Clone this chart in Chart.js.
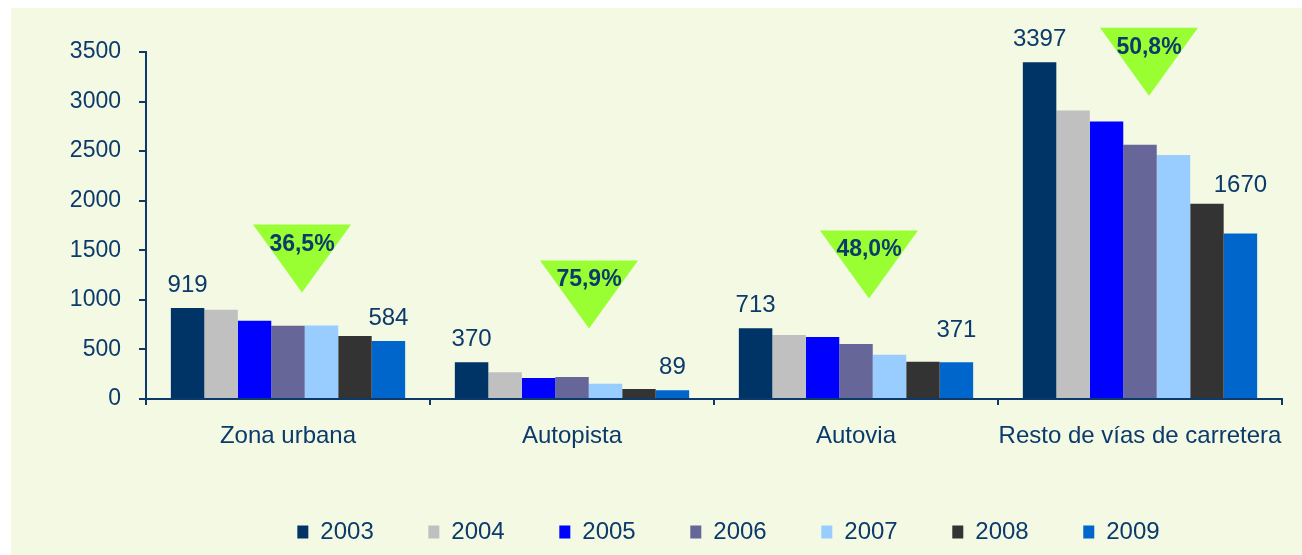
<!DOCTYPE html>
<html>
<head>
<meta charset="utf-8">
<script src="https://cdn.jsdelivr.net/npm/chart.js@4/dist/chart.umd.min.js"></script>
<style>
    body { margin: 0; background: #ffffff; }
    #wrap { position: absolute; left: 11px; top: 8px; width: 1291px; height: 547px; background: #F3F9E3; }
</style>
</head>
<body>
<div id="wrap"><canvas id="chart" width="1291" height="547"></canvas></div>
<script>
const categories = ['Zona urbana', 'Autopista', 'Autovia', 'Resto de vías de carretera'];
const years = ['2003', '2004', '2005', '2006', '2007', '2008', '2009'];

const v2003 = [919, 370, 713, 3397];
const v2004 = [900, 270, 645, 2910];
const v2005 = [790, 212, 625, 2800];
const v2006 = [738, 222, 556, 2565];
const v2007 = [742, 155, 446, 2460];
const v2008 = [635, 102, 376, 1970];
const v2009 = [584, 89, 371, 1670];

const yTicks = [0, 500, 1000, 1500, 2000, 2500, 3000, 3500];

// reduction 2003-2009 shown in the green triangles, anchored at a value on the y scale
const dropLabels = ['36,5%', '75,9%', '48,0%', '50,8%'];
const dropTops = [1760, 1398, 1700, 3745];

const colors = ['#003366', '#C0C0C0', '#0000FF', '#666699', '#99CCFF', '#333333', '#0066CC'];
const textColor = '#0B3A6B';
const axisColor = '#0B3A6B';
const fontFamily = "Arial, 'Liberation Sans', sans-serif";

const series = [v2003, v2004, v2005, v2006, v2007, v2008, v2009];

// value labels only on the first and the last year
// (the last-year labels are pushed up a bit where they would touch the 2008 bar)
const endLabels = {
    id: 'endLabels',
    afterDatasetsDraw(chart) {
        const ctx = chart.ctx;
        const lastLift = [0, 0, 9, 25];
        const last = series.length - 1;
        ctx.save();
        ctx.font = '24px ' + fontFamily;
        ctx.fillStyle = textColor;
        ctx.textAlign = 'center';
        ctx.textBaseline = 'alphabetic';
        [0, last].forEach(di => {
            chart.getDatasetMeta(di).data.forEach((bar, i) => {
                const lift = di === last ? lastLift[i] : 0;
                ctx.fillText(String(series[di][i]), bar.x, bar.y - 16 - lift);
            });
        });
        ctx.restore();
    }
};

const dropMarks = {
    id: 'dropMarks',
    afterDatasetsDraw(chart) {
        const ctx = chart.ctx;
        const x = chart.scales.x, y = chart.scales.y;
        const shift = [14, 17, 13, 9];
        ctx.save();
        dropLabels.forEach((txt, i) => {
            const cx = x.getPixelForValue(i) + shift[i];
            const top = y.getPixelForValue(dropTops[i]);
            ctx.beginPath();
            ctx.moveTo(cx - 49, top);
            ctx.lineTo(cx + 49, top);
            ctx.lineTo(cx, top + 68);
            ctx.closePath();
            ctx.fillStyle = '#99FF33';
            ctx.fill();
            ctx.font = 'bold 23px ' + fontFamily;
            ctx.fillStyle = textColor;
            ctx.textAlign = 'center';
            ctx.textBaseline = 'alphabetic';
            ctx.fillText(txt, cx, top + 26);
        });
        ctx.restore();
    }
};

// move the legend row to where it sits in the original
const legendShift = {
    id: 'legendShift',
    afterLayout(chart) {
        chart.legend.left += 82;
        chart.legend.right += 82;
    }
};

new Chart(document.getElementById('chart'), {
    type: 'bar',
    data: {
        labels: categories,
        datasets: years.map((yr, i) => ({
            label: yr,
            data: series[i],
            backgroundColor: colors[i],
            borderWidth: 0,
            categoryPercentage: 0.825,
            barPercentage: 1
        }))
    },
    options: {
        responsive: false,
        animation: false,
        layout: { padding: { top: 44, right: 20, bottom: 1, left: 0 } },
        plugins: {
            legend: {
                position: 'bottom',
                labels: {
                    boxWidth: 11,
                    boxHeight: 13,
                    padding: 54.6,
                    color: textColor,
                    font: { family: fontFamily, size: 24 }
                }
            },
            tooltip: { enabled: false }
        },
        scales: {
            x: {
                afterFit(scale) { scale.height = 66.4; },
                border: { color: axisColor, width: 2 },
                grid: { offset: true, drawOnChartArea: false, drawTicks: true, tickLength: 6, color: axisColor, lineWidth: 2 },
                ticks: {
                    color: textColor,
                    padding: 17,
                    maxRotation: 0,
                    minRotation: 0,
                    autoSkip: false,
                    font: { family: fontFamily, size: 24 }
                }
            },
            y: {
                min: 0,
                max: 3500,
                afterFit(scale) { scale.width = 135; },
                afterBuildTicks(scale) { scale.ticks = yTicks.map(v => ({ value: v })); },
                border: { color: axisColor, width: 2 },
                grid: { drawOnChartArea: false, drawTicks: true, tickLength: 7, color: axisColor, lineWidth: 2 },
                ticks: {
                    color: textColor,
                    padding: 18,
                    font: { family: fontFamily, size: 23 },
                    callback: v => String(v)
                }
            }
        }
    },
    plugins: [endLabels, dropMarks, legendShift]
});
</script>
</body>
</html>
